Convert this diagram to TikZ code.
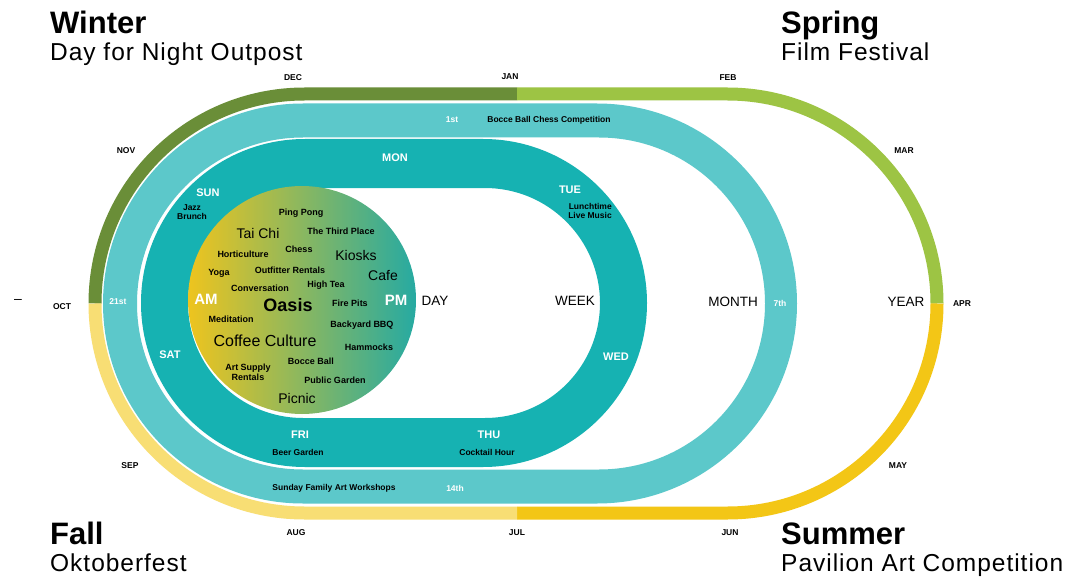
\documentclass[tikz,border=0pt]{standalone}
\usepackage{fontspec}
\setmainfont{Liberation Sans}
\newfontfamily\spacedsans[LetterSpace=4]{Liberation Sans}
\definecolor{yeardark}{RGB}{106,142,56}
\definecolor{yearlight}{RGB}{157,196,68}
\definecolor{yeargold}{RGB}{243,198,22}
\definecolor{yearpale}{RGB}{248,222,116}
\definecolor{monthteal}{RGB}{92,200,202}
\definecolor{weekteal}{RGB}{22,178,178}
\definecolor{circY}{RGB}{238,196,30}
\definecolor{circT}{RGB}{38,170,162}
\tikzset{
  stad/.style n args={4}{insert path={(#1,#3-#4) -- (#2,#3-#4) arc[start angle=-90,end angle=90,radius=#4] -- (#1,#3+#4) arc[start angle=90,end angle=270,radius=#4] -- cycle}},
  yearseg/.style={line width=13pt},
  head/.style={font=\bfseries\fontsize{31}{34}\selectfont, inner sep=0, anchor=base west},
  subhead/.style={font=\spacedsans\fontsize{24.5}{28}\selectfont, inner sep=0, anchor=base west},
  monthlbl/.style={font=\bfseries\fontsize{8.5}{9}\selectfont, inner sep=0},
  bandtxt/.style={font=\bfseries\fontsize{8.5}{9.5}\selectfont, inner sep=0, align=center},
  ordlbl/.style={font=\bfseries\fontsize{8.5}{9}\selectfont, text=white, inner sep=0},
  daylbl/.style={font=\bfseries\fontsize{11}{12}\selectfont, text=white, inner sep=0},
  scalelbl/.style={font=\fontsize{13.5}{14}\selectfont, inner sep=0},
  ampm/.style={font=\bfseries\fontsize{15}{16}\selectfont, text=white, inner sep=0},
  smallw/.style={font=\bfseries\fontsize{9}{10}\selectfont, inner sep=0, align=center},
  bigw/.style={font=\fontsize{14}{15}\selectfont, inner sep=0},
}
\begin{document}
\begin{tikzpicture}[x=1pt,y=-1pt]
\clip (0,0) rectangle (1079,583);
\fill[white] (0,0) rectangle (1079,583);

% year band
\draw[yearseg, yeardark] (95,303.5) arc[start angle=180,end angle=270,radius=209.5] -- (517,94);
\draw[yearseg, yearlight] (517,94) -- (727.5,94) arc[start angle=-90,end angle=0,radius=209.5];
\draw[yearseg, yeargold] (937,303.5) arc[start angle=0,end angle=90,radius=209.5] -- (517,513);
\draw[yearseg, yearpale] (517,513) -- (304.5,513) arc[start angle=90,end angle=180,radius=209.5];

% month band
\fill[monthteal, even odd rule] [stad={303}{597}{303.5}{200}] [stad={303}{599}{303.5}{166}];
% week band
\fill[weekteal, even odd rule] [stad={305}{483}{303}{164}] [stad={303}{485}{303}{115}];
% day circle
\shade[left color=circY, right color=circT] (302,300) circle[radius=114];

% headings
\node[head] (winter) at (50,34) {Winter};
\node[subhead] (winsub) at (50,61) {Day for Night Outpost};
\node[head] (spring) at (781,34) {Spring};
\node[subhead] (sprsub) at (781,61) {Film Festival};
\node[head] (fall) at (50,544) {Fall};
\node[subhead] (fallsub) at (50,571) {Oktoberfest};
\node[head] (summer) at (781,544) {Summer};
\node[subhead] (sumsub) at (781,571) {Pavilion Art Competition};

% months
\node[monthlbl] (dec) at (293,78) {DEC};
\node[monthlbl] (jan) at (510,77) {JAN};
\node[monthlbl] (feb) at (728,78) {FEB};
\node[monthlbl] (mar) at (904,151) {MAR};
\node[monthlbl] (apr) at (962,304) {APR};
\node[monthlbl] (may) at (898,466) {MAY};
\node[monthlbl] (jun) at (730,533) {JUN};
\node[monthlbl] (jul) at (517,533) {JUL};
\node[monthlbl] (aug) at (296,533) {AUG};
\node[monthlbl] (sep) at (130,466) {SEP};
\node[monthlbl] (oct) at (62,307) {OCT};
\node[monthlbl] (nov) at (126,151) {NOV};
\node[font=\fontsize{14}{14}\selectfont, inner sep=0] (dash) at (18,301) {–};

% month band labels
\node[ordlbl] (d1) at (452,120) {1st};
\node[bandtxt] (chess) at (549,120) {Bocce Ball Chess Competition};
\node[ordlbl] (d7) at (780,303) {7th};
\node[ordlbl] (d14) at (455,488) {14th};
\node[bandtxt] (workshops) at (334,488) {Sunday Family Art Workshops};
\node[ordlbl] (d21) at (118,302) {21st};

% week band labels
\node[daylbl] (mon) at (395,158) {MON};
\node[daylbl] (tue) at (570,190) {TUE};
\node[bandtxt, align=right] (lunch) at (590,211) {Lunchtime\\Live Music};
\node[daylbl] (wed) at (616,357) {WED};
\node[daylbl] (thu) at (489,435) {THU};
\node[bandtxt] (cocktail) at (487,452) {Cocktail Hour};
\node[daylbl] (fri) at (300,435) {FRI};
\node[bandtxt] (beer) at (298,452) {Beer Garden};
\node[daylbl] (sat) at (170,355) {SAT};
\node[daylbl] (sun) at (208,193) {SUN};
\node[bandtxt] (jazz) at (192,212) {Jazz\\Brunch};

% scale labels
\node[scalelbl] (day) at (435,301) {DAY};
\node[scalelbl] (week) at (575,301) {WEEK};
\node[scalelbl] (month) at (733,302) {MONTH};
\node[scalelbl] (year) at (906,302) {YEAR};

% circle words
\node[ampm] (am) at (206,299) {AM};
\node[ampm] (pm) at (396,300) {PM};
\node[smallw] (pingpong) at (301,213) {Ping Pong};
\node[bigw] (taichi) at (258,233) {Tai Chi};
\node[smallw] (thirdplace) at (341,231) {The Third Place};
\node[smallw] (horti) at (243,254) {Horticulture};
\node[smallw] (chessw) at (299,249) {Chess};
\node[bigw] (kiosks) at (356,255) {Kiosks};
\node[smallw] (yoga) at (219,273) {Yoga};
\node[smallw] (outfit) at (290,270) {Outfitter Rentals};
\node[bigw] (cafe) at (383,276) {Cafe};
\node[smallw] (conv) at (260,288) {Conversation};
\node[smallw] (hightea) at (326,285) {High Tea};
\node[font=\bfseries\fontsize{18}{19}\selectfont, inner sep=0] (oasis) at (288,305) {Oasis};
\node[smallw] (firepits) at (350,303) {Fire Pits};
\node[smallw] (medit) at (231,319) {Meditation};
\node[smallw] (bbq) at (362,325) {Backyard BBQ};
\node[font=\fontsize{16}{17}\selectfont, inner sep=0] (coffee) at (265,341) {Coffee Culture};
\node[smallw] (hammocks) at (369,347) {Hammocks};
\node[smallw] (bocce) at (311,361) {Bocce Ball};
\node[smallw] (artsupply) at (248,372) {Art Supply\\Rentals};
\node[smallw] (publicg) at (335,380) {Public Garden};
\node[bigw] (picnic) at (297,398) {Picnic};
\end{tikzpicture}
\end{document}
